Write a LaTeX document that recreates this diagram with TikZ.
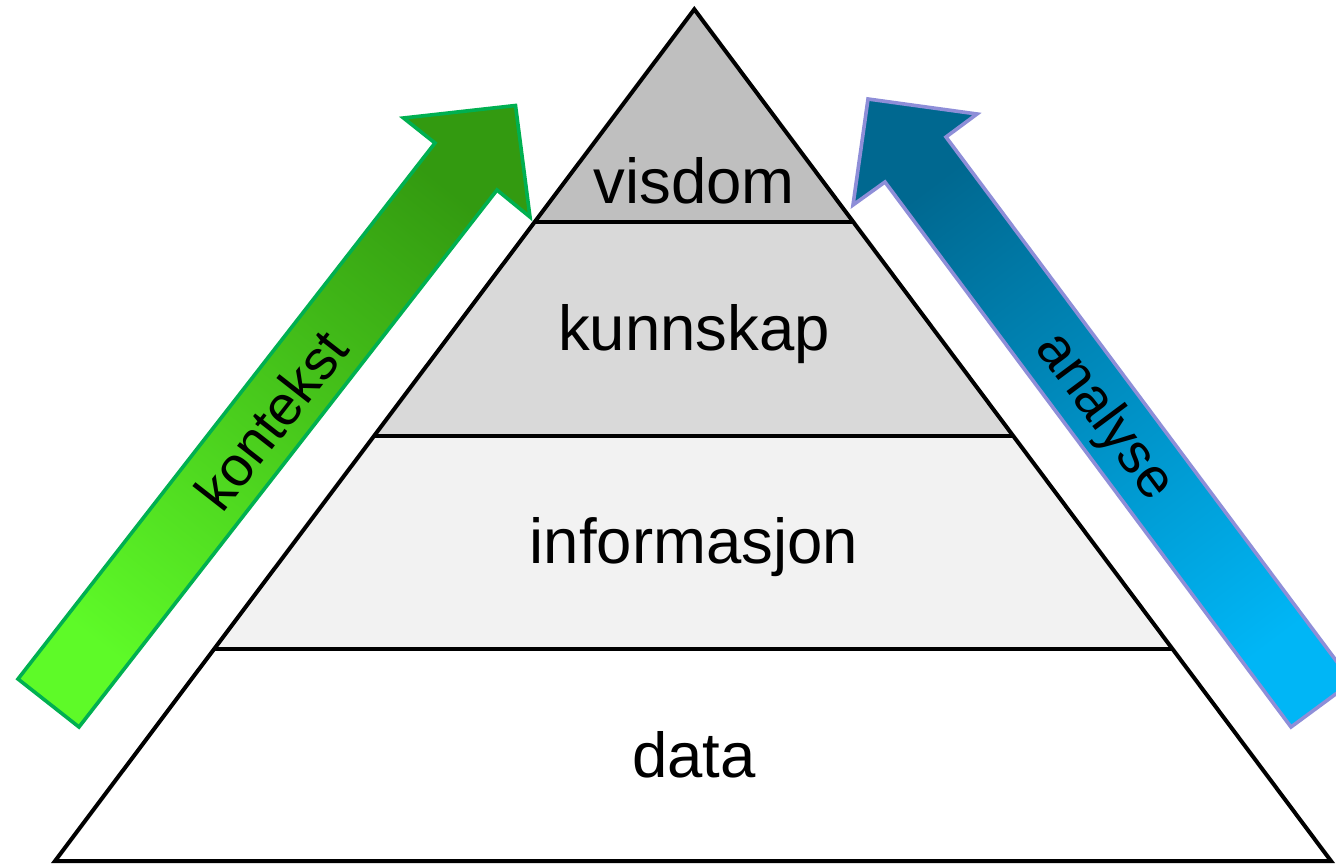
\documentclass[tikz,border=0pt]{standalone}
\usepackage{fontspec}
\setmainfont{Liberation Sans}
\definecolor{lvlA}{HTML}{BFBFBF}
\definecolor{lvlB}{HTML}{D9D9D9}
\definecolor{lvlC}{HTML}{F2F2F2}
\definecolor{grTop}{HTML}{339A10}
\definecolor{grBot}{HTML}{5EFA28}
\definecolor{grLine}{HTML}{00B050}
\definecolor{blTop}{HTML}{006890}
\definecolor{blBot}{HTML}{00B6F6}
\definecolor{blLine}{HTML}{8E8ED8}
\tikzset{
  layer/.style={draw=black, line width=4pt, line join=miter},
  lvltext/.style={anchor=base, font=\fontsize{63.5}{70}\selectfont, inner sep=0pt},
  arrtext/.style={anchor=center, font=\fontsize{56}{62}\selectfont, inner sep=0pt},
  greenarrow/.style={draw=grLine, line width=3.6pt, line join=miter, top color=grTop, bottom color=grBot, shading angle=-38},
  bluearrow/.style={draw=blLine, line width=3.6pt, line join=miter, top color=blTop, bottom color=blBot, shading angle=37}
}
\begin{document}
\begin{tikzpicture}[x=1pt,y=-1pt]
\useasboundingbox (0,0) rectangle (1336,864);
\clip (0,0) rectangle (1336,864);
% pyramid corners
\coordinate (apex) at (694.3,9.3);
\coordinate (l1) at (534.6,222); \coordinate (r1) at (853.3,222);
\coordinate (l2) at (374.0,436); \coordinate (r2) at (1013.3,436);
\coordinate (l3) at (214.2,649); \coordinate (r3) at (1172.5,649);
\coordinate (l4) at (55,861);    \coordinate (r4) at (1331,861);
% layers
\fill[white] (l3) -- (r3) -- (r4) -- (l4) -- cycle;
\fill[lvlC] (l2) -- (r2) -- (r3) -- (l3) -- cycle;
\fill[lvlB] (l1) -- (r1) -- (r2) -- (l2) -- cycle;
\fill[lvlA] (apex) -- (r1) -- (l1) -- cycle;
\draw[layer] (apex) -- (r4) -- (l4) -- cycle;
\draw[layer] (l1) -- (r1);
\draw[layer] (l2) -- (r2);
\draw[layer] (l3) -- (r3);
% labels
\node[lvltext] (visdom) at (694,203) {visdom};
\node[lvltext] (kunnskap) at (694,350) {kunnskap};
\node[lvltext] (informasjon) at (694,563) {informasjon};
\node[lvltext] (data) at (694,777) {data};
% green arrow
\path[greenarrow] (18,679) -- (79,727) -- (497,190) -- (530,217) -- (515.5,105.5) -- (403.5,118) -- (435,143) -- cycle;
\node[arrtext, rotate=52] (kontekst) at (271,420) {kontekst};
% blue arrow
\path[bluearrow] (868,99) -- (977,114) -- (946,137) -- (1352,682) -- (1291,727) -- (885,182) -- (853,205) -- cycle;
\node[arrtext, rotate=-53.3] (analyse) at (1104,417) {analyse};
\end{tikzpicture}
\end{document}
